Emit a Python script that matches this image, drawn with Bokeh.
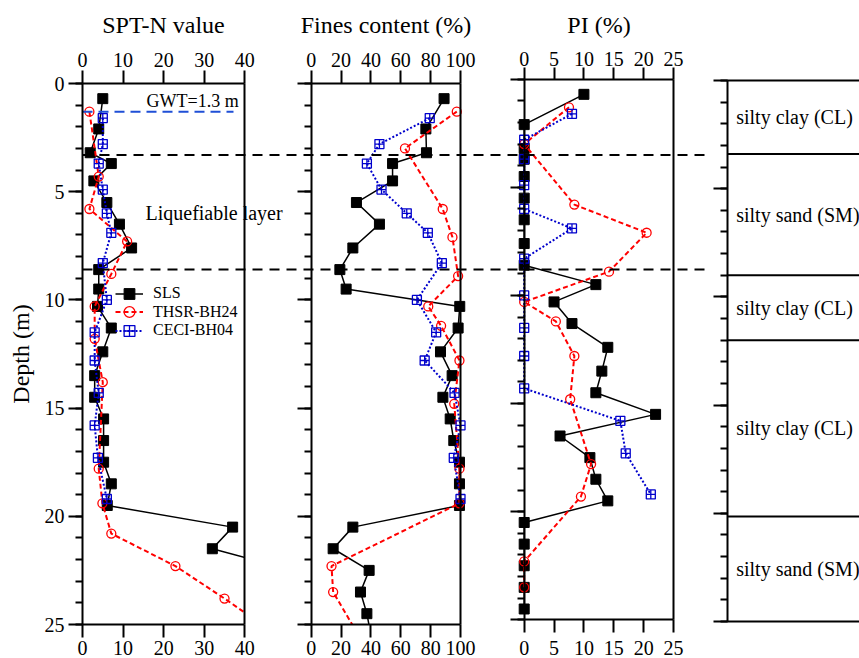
from bokeh.plotting import figure
from bokeh.models import Range1d, LinearAxis, FixedTicker, Legend, LegendItem, Label
from bokeh.core.properties import value
from bokeh.embed import file_html
from bokeh.resources import INLINE

# ---------------- data ----------------
SPT_TICKS = [0, 10, 20, 30, 40]
FC_TICKS = [0, 20, 40, 60, 80, 100]
PI_TICKS = [0, 5, 10, 15, 20, 25]
DEPTH_TICKS = [0, 5, 10, 15, 20, 25]
DEPTH_MINOR = list(range(0, 26))

GWT_DEPTH = 1.3
LIQ_TOP = 3.3
LIQ_BOTTOM = 8.6

SERIES_NAMES = ["SLS", "THSR-BH24", "CECI-BH04"]

# SLS
SLS_SPT_DEPTH = [0.7, 2.1, 3.2, 3.7, 4.5, 5.5, 6.5, 7.6, 8.6, 9.5, 10.3, 11.3, 12.4,
                 13.5, 14.5, 15.5, 16.5, 17.5, 18.5, 19.5, 20.5, 21.5, 22.5]
SLS_SPT = [5, 4, 1.9, 7.1, 2.8, 6, 9.1, 12.1, 4, 4, 3.7, 7.1, 5,
           3, 3, 5.2, 5.2, 5.2, 7.1, 6.1, 37, 32, 52]
SLS_FC_DEPTH = [0.7, 2.1, 3.2, 3.7, 4.5, 5.5, 6.5, 7.6, 8.6, 9.5, 10.3, 11.3, 12.4,
                13.5, 14.5, 15.5, 16.5, 17.5, 18.5, 19.5, 20.5, 21.5, 22.5, 23.5, 24.5, 25.5]
SLS_FC = [89, 76.8, 77.2, 54.5, 54.5, 30.3, 45.7, 27.9, 19.2, 23.4, 99.5, 98.4, 86.6,
          94.4, 88.2, 93.1, 95.5, 99.3, 99.3, 99.3, 27.9, 14.7, 38.8, 33, 37.3, 40]
SLS_PI_DEPTH = [0.7, 2.1, 3.2, 3.7, 4.5, 5.5, 6.5, 7.6, 8.6, 9.5, 10.3, 11.3, 12.4,
                13.5, 14.5, 15.5, 16.5, 17.5, 18.5, 19.5, 20.5, 21.5, 22.5, 23.5, 24.5]
SLS_PI = [10, 0, 0, 0, 0, 0, 0, 0, 0, 12, 5, 8, 14,
          13, 12, 22, 6, 11, 12, 14, 0, 0, 0, 0, 0]

# THSR-BH24
THSR_SPT_DEPTH = [1.3, 4.3, 5.8, 7.3, 8.8, 10.3, 11.8, 13.8, 17.8, 19.4, 20.8, 22.3, 23.8, 25.3]
THSR_SPT = [1.7, 4, 1.7, 11, 7.1, 3, 3, 5, 4, 4.9, 7.1, 22.9, 35, 46.5]
THSR_FC_DEPTH = [1.3, 3.0, 5.8, 7.1, 8.9, 10.3, 11.2, 12.8, 14.8, 17.8, 19.4, 22.3, 23.5, 25.3]
THSR_FC = [97.5, 62.8, 88.1, 94.6, 98.4, 78.4, 87, 99.3, 95.8, 99.3, 99.3, 13.6, 14.7, 30]
THSR_PI_DEPTH = [1.3, 3.0, 5.8, 7.1, 8.9, 10.3, 11.2, 12.8, 14.8, 17.8, 19.3, 22.3, 23.5]
THSR_PI = [7.5, 0, 8.4, 20.5, 14.2, 0, 5.3, 8.4, 7.7, 11.2, 9.5, 0, 0]

# CECI-BH04
CECI_DEPTH = [1.6, 2.8, 3.7, 4.9, 6.0, 6.9, 8.3, 10.0, 11.5, 12.8, 14.3, 15.8, 17.3, 19.2]
CECI_SPT = [5, 5, 4, 5, 6, 7.1, 5, 6, 3, 3, 4, 3, 3.8, 6]
CECI_FC = [79.4, 45.7, 37.3, 47.1, 64, 78.1, 87.5, 70.8, 83.7, 76, 96, 100, 95.5, 100]
CECI_PI = [8, 0, 0, 0, 0, 8, 0, 0, 0, 0, 0, 16.1, 17, 21.2]

# soil column
SOIL_TOP = [0, 3.4, 9.0, 12.0, 20.15]
SOIL_BOT = [3.4, 9.0, 12.0, 20.15, 25.0]
SOIL_NAME = ["silty clay (CL)", "silty sand (SM)", "silty clay (CL)",
             "silty clay (CL)", "silty sand (SM)"]

# ---------------- layout (pixels) ----------------
W, H = 859, 658
FL, FR, FT, FB = 0, W, 0, H     # frame covers the whole canvas
SERIF = "Liberation Serif"


def rng(p0, p1, v0, v1, lo, hi):
    k = (v1 - v0) / (p1 - p0)
    return Range1d(start=v0 + (lo - p0) * k, end=v0 + (hi - p0) * k)


SPT_PX = (82, 244.3)
p = figure(width=W, height=H,
           x_range=rng(SPT_PX[0], SPT_PX[1], 0, 40, FL, FR),
           y_range=rng(83, 624, 0, 25, FB, FT),
           min_border_left=0, min_border_right=0, min_border_top=0, min_border_bottom=0,
           x_axis_location=None, y_axis_location=None,
           toolbar_location=None, output_backend="svg", outline_line_color=None,
           background_fill_color="white", border_fill_color="white")
p.xgrid.visible = False
p.ygrid.visible = False
p.extra_x_ranges = {"fc": rng(310.7, 460, 0, 100, FL, FR),
                    "pi": rng(523.7, 673, 0, 25, FL, FR),
                    "soil": rng(726.7, 826.7, 0, 1, FL, FR)}
p.extra_y_ranges = {"pi": rng(78.7, 619.3, 0, 25, FB, FT),
                    "soil": rng(80, 621, 0, 25, FB, FT)}


def spt_of_px(px):
    return (px - SPT_PX[0]) * 40 / (SPT_PX[1] - SPT_PX[0])


RED = "#ff0000"
BLUE = "#0000cc"

STY = {
    "sls": dict(line=dict(line_color="black", line_width=1.5),
                mk=dict(marker="square", size=10, fill_color="black", line_color="black")),
    "thsr": dict(line=dict(line_color=RED, line_width=2, line_dash="5 3"),
                 mk=dict(marker="circle", size=9, fill_color=None, line_color=RED, line_width=1.3)),
    "ceci": dict(line=dict(line_color=BLUE, line_width=2, line_dash="2 2"),
                 mk=dict(marker="square_cross", size=9, fill_color=None, line_color=BLUE, line_width=1.3)),
}


def series(xs, ys, key, xr="default", yr="default"):
    s = STY[key]
    l = p.line(xs, ys, x_range_name=xr, y_range_name=yr, **s["line"])
    m = p.scatter(xs, ys, x_range_name=xr, y_range_name=yr, **s["mk"])
    return l, m


# SPT panel
sls_l, sls_m = series(SLS_SPT, SLS_SPT_DEPTH, "sls")
thsr_l, thsr_m = series(THSR_SPT, THSR_SPT_DEPTH, "thsr")
ceci_l, ceci_m = series(CECI_SPT, CECI_DEPTH, "ceci")

# Fines content panel
series(SLS_FC, SLS_FC_DEPTH, "sls", xr="fc")
series(THSR_FC, THSR_FC_DEPTH, "thsr", xr="fc")
series(CECI_FC, CECI_DEPTH, "ceci", xr="fc")

# PI panel
series(SLS_PI, SLS_PI_DEPTH, "sls", xr="pi", yr="pi")
series(THSR_PI, THSR_PI_DEPTH, "thsr", xr="pi", yr="pi")
series(CECI_PI, CECI_DEPTH, "ceci", xr="pi", yr="pi")

# white masks: hide the parts of profiles that run off the panel scales
p.quad(left=SPT_TICKS[-1], right=spt_of_px(300), top=18, bottom=30,
       fill_color="white", line_color=None)
p.quad(left=spt_of_px(0), right=spt_of_px(W), top=DEPTH_TICKS[-1], bottom=30,
       fill_color="white", line_color=None)

# GWT line and liquefiable layer limits
p.segment(x0=0, x1=spt_of_px(233), y0=GWT_DEPTH, y1=GWT_DEPTH,
          line_color="#1f4fd6", line_width=2, line_dash="10 6")
p.segment(x0=[0, 0], x1=[spt_of_px(706)] * 2, y0=[LIQ_TOP, LIQ_BOTTOM],
          y1=[LIQ_TOP, LIQ_BOTTOM], line_color="black", line_width=2, line_dash="10 7")

# soil column
p.segment(x0=[0] * 5, x1=[2] * 5, y0=SOIL_BOT, y1=SOIL_BOT, x_range_name="soil",
          y_range_name="soil", line_color="black", line_width=2)
p.segment(x0=0, x1=2, y0=0, y1=0, x_range_name="soil", y_range_name="soil",
          line_color="black", line_width=2)
p.text(x=[0.09] * 5, y=[(a + b) / 2 for a, b in zip(SOIL_TOP, SOIL_BOT)], text=SOIL_NAME,
       x_range_name="soil", y_range_name="soil", text_font=value(SERIF),
       text_font_size="20px", text_baseline="middle", text_align="left", text_color="black")

p.add_layout(Label(x=spt_of_px(146), y=0.79, text="GWT=1.3 m", text_font=SERIF,
                   text_font_size="18px", text_baseline="middle", text_color="black"))
p.add_layout(Label(x=spt_of_px(145), y=6.0, text="Liquefiable layer", text_font=SERIF,
                   text_font_size="20px", text_baseline="middle", text_color="black"))


def axis(side, xr, yr, loc, bounds, ticks, minor=None, tick_out=13, minor_out=0,
         labels=True, title=None, label_standoff=6, title_standoff=10):
    ax = LinearAxis(x_range_name=xr, y_range_name=yr, fixed_location=loc, bounds=bounds,
                    ticker=FixedTicker(ticks=ticks, minor_ticks=minor or []))
    ax.axis_line_color = "black"
    ax.axis_line_width = 2
    ax.major_tick_line_color = "black"
    ax.major_tick_line_width = 2
    ax.major_tick_out = tick_out
    ax.major_tick_in = 0
    ax.minor_tick_line_color = "black"
    ax.minor_tick_line_width = 2
    ax.minor_tick_out = minor_out
    ax.minor_tick_in = 0
    ax.major_label_text_font = SERIF
    ax.major_label_text_font_size = "20px"
    ax.major_label_text_color = "black" if labels else None
    ax.major_label_standoff = label_standoff
    if title:
        ax.axis_label = title
        ax.axis_label_text_font = SERIF
        ax.axis_label_text_font_style = "normal"
        ax.axis_label_text_font_size = "24px"
        ax.axis_label_text_color = "black"
        ax.axis_label_standoff = title_standoff
    p.add_layout(ax, side)
    return ax


# top axes with titles
axis("above", "default", "default", 0, (0, 40), SPT_TICKS, label_standoff=4,
     title="SPT-N value", title_standoff=12)
axis("above", "fc", "default", 0, (0, 100), FC_TICKS, label_standoff=4,
     title="Fines content (%)", title_standoff=12)
axis("above", "pi", "pi", 0, (0, 25), PI_TICKS, tick_out=12, label_standoff=1,
     title="PI (%)", title_standoff=12)
# bottom axes
axis("below", "default", "default", 25, (0, 40), SPT_TICKS, label_standoff=3)
axis("below", "fc", "default", 25, (0, 100), FC_TICKS, label_standoff=3)
axis("below", "pi", "pi", 25, (0, 25), PI_TICKS, label_standoff=8)
# depth axes
axis("left", "default", "default", 0, (0, 25), DEPTH_TICKS, DEPTH_MINOR, 14, 7,
     label_standoff=4, title="Depth (m)", title_standoff=8)
axis("left", "fc", "default", 0, (0, 25), DEPTH_TICKS, DEPTH_MINOR, 14, 7, labels=False)
axis("left", "pi", "pi", 0, (0, 25), DEPTH_TICKS, DEPTH_MINOR, 14, 7, labels=False)
axis("left", "soil", "soil", 0, (0, 25), DEPTH_TICKS, DEPTH_MINOR, 14, 7, labels=False)
# right borders
axis("right", "default", "default", 40, (0, 25), [], labels=False)
axis("right", "fc", "default", 100, (0, 25), [], labels=False)
axis("right", "pi", "pi", 25, (0, 25), [], labels=False)

# legend: one row per series (row centres at 293, 311.5, 330 px from the top)
LEG_ROW_PX = [293.3, 311.5, 330.0]
GLYPH_H = 27
for name, rends, cy in zip(SERIES_NAMES, [[sls_l, sls_m], [thsr_l, thsr_m], [ceci_l, ceci_m]],
                           LEG_ROW_PX):
    lg = Legend(items=[LegendItem(label=name, renderers=rends)],
                location=(115, H - (cy + GLYPH_H / 2)), border_line_color=None,
                background_fill_alpha=0, padding=0, margin=0, spacing=0,
                glyph_width=28, glyph_height=GLYPH_H, label_height=16, label_standoff=10,
                label_text_font=SERIF, label_text_font_size="16px",
                label_text_color="black")
    p.add_layout(lg)

open("out.html", "w").write(file_html(p, INLINE))
